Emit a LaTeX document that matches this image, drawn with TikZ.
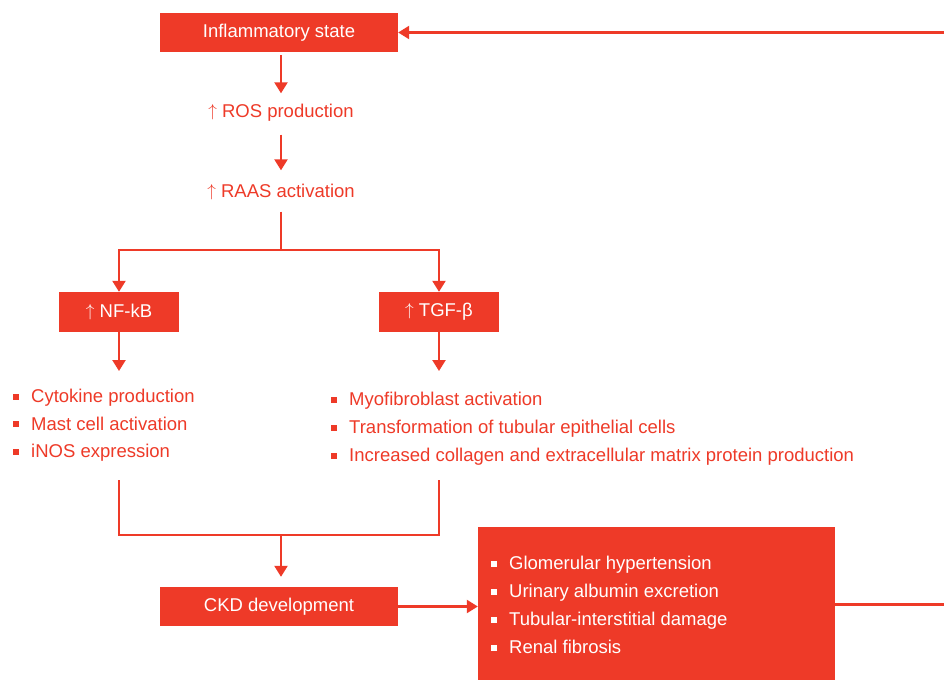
\documentclass[tikz,border=0pt]{standalone}
\usepackage{fontspec}
\setmainfont{Liberation Sans}
\usetikzlibrary{arrows.meta}
\definecolor{cred}{RGB}{238,58,40}
\newcommand{\bul}{\raisebox{3pt}{\rule{6pt}{6pt}}\hspace{12pt}}
\newcommand{\up}{\raisebox{1pt}{$\uparrow$}\space}
\begin{document}
\begin{tikzpicture}[x=1pt,y=-1pt,
  every node/.style={font=\fontsize{18.5}{28}\selectfont},
  rbox/.style={fill=cred,text=white,inner sep=0pt,minimum height=39pt},
  rtext/.style={text=cred,inner sep=0pt,minimum height=40pt},
  conn/.style={draw=cred,line width=2.3pt},
  arr/.style={conn,-{Triangle[width=13pt,length=11pt]}},
  blist/.style={text=cred,align=left,inner sep=0pt,anchor=west}]
\useasboundingbox (0,0) rectangle (944,680);
\fill[white] (0,0) rectangle (944,680);
% nodes
\node[rbox,minimum width=238pt] (infl) at (279,32.5) {Inflammatory state};
\node[rtext] (ros) at (281,112.5) {\up ROS production};
\node[rtext] (raas) at (281,191.5) {\up RAAS activation};
\node[rbox,minimum width=120pt,minimum height=40pt] (nfkb) at (119,312) {\up NF-kB};
\node[rbox,minimum width=120pt,minimum height=40pt] (tgf) at (439,312) {\up TGF-β};
\node[blist] (llist) at (13,425.5) {\bul Cytokine production\\[-0.5pt]\bul Mast cell activation\\[-0.5pt]\bul iNOS expression};
\node[blist] (rlist) at (331,429) {\bul Myofibroblast activation\\\bul Transformation of tubular epithelial cells\\\bul Increased collagen and extracellular matrix protein production};
\node[rbox,minimum width=238pt] (ckd) at (279,606.5) {CKD development};
\node[rbox,minimum width=357pt,minimum height=153pt] (big) at (656.5,603.5) {};
\node[blist,text=white] (blist) at (491,605) {\bul Glomerular hypertension\\\bul Urinary albumin excretion\\\bul Tubular-interstitial damage\\\bul Renal fibrosis};
% coordinates
\coordinate (j1) at (281,250);
\coordinate (a1) at (119,371);
\coordinate (a2) at (439,371);
\coordinate (b1) at (119,480);
\coordinate (b2) at (439,480);
\coordinate (j2) at (281,535);
\coordinate (e1) at (944,604.5);
\coordinate (e2) at (944,32.5);
% connectors
\draw[arr,shorten <=3pt] (infl.south -| ros.north) -- ([yshift=-1pt]ros.north);
\draw[arr,shorten <=2pt,shorten >=1pt] (ros.south) -- (raas.north);
\draw[conn] (raas.south) -- (j1);
\draw[arr] (j1) -| (nfkb.north);
\draw[arr] (j1) -| (tgf.north);
\draw[arr] (nfkb.south) -- (a1);
\draw[arr] (tgf.south) -- (a2);
\draw[conn] (b1) |- (j2) -| (b2);
\draw[arr,shorten >=10pt] (j2) -- (ckd.north -| j2);
\draw[arr] (ckd.east) -- (ckd.east -| big.west);
\draw[conn] (big.east |- e1) -- (e1);
\draw[arr] (e2) -- (infl.east |- e2);
\end{tikzpicture}
\end{document}
